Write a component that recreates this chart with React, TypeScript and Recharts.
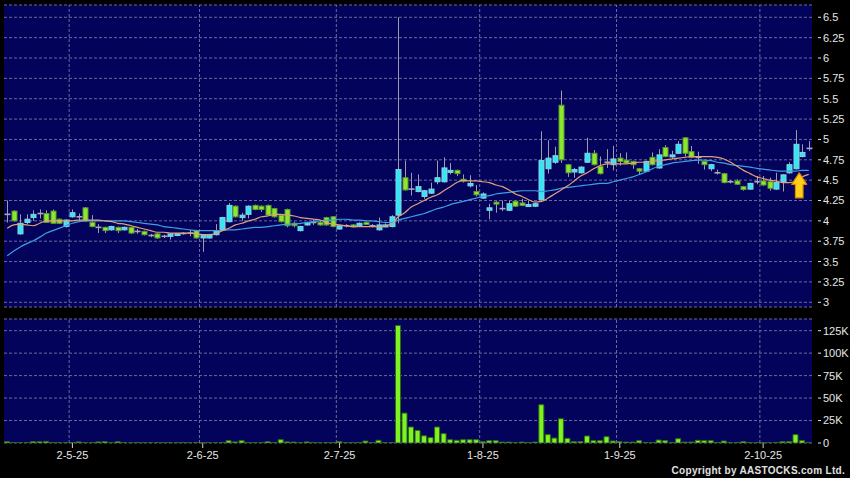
import React from "react";
import { ComposedChart, Bar, Line, XAxis, YAxis, CartesianGrid, ReferenceDot, ReferenceLine } from "recharts";

const dates = [
  "15-4-25","16-4-25","17-4-25","22-4-25","23-4-25","24-4-25","25-4-25","28-4-25","29-4-25","30-4-25",
  "2-5-25","6-5-25","7-5-25","8-5-25","9-5-25","12-5-25","13-5-25","14-5-25","15-5-25","16-5-25","19-5-25","20-5-25","21-5-25","22-5-25","23-5-25","26-5-25","27-5-25","28-5-25","29-5-25","30-5-25",
  "2-6-25","3-6-25","4-6-25","5-6-25","6-6-25","9-6-25","10-6-25","11-6-25","12-6-25","13-6-25","16-6-25","17-6-25","18-6-25","19-6-25","20-6-25","23-6-25","24-6-25","25-6-25","26-6-25","27-6-25","30-6-25",
  "2-7-25","3-7-25","4-7-25","7-7-25","8-7-25","9-7-25","10-7-25","11-7-25","14-7-25","15-7-25","16-7-25","17-7-25","18-7-25","21-7-25","22-7-25","23-7-25","24-7-25","25-7-25","28-7-25","29-7-25","30-7-25","31-7-25",
  "1-8-25","4-8-25","5-8-25","6-8-25","7-8-25","8-8-25","11-8-25","12-8-25","13-8-25","14-8-25","15-8-25","18-8-25","19-8-25","20-8-25","21-8-25","22-8-25","25-8-25","26-8-25","27-8-25","28-8-25","29-8-25",
  "1-9-25","2-9-25","3-9-25","4-9-25","5-9-25","8-9-25","9-9-25","10-9-25","11-9-25","12-9-25","15-9-25","16-9-25","17-9-25","18-9-25","19-9-25","22-9-25","23-9-25","24-9-25","25-9-25","26-9-25","29-9-25","30-9-25",
  "2-10-25","3-10-25","6-10-25","8-10-25","9-10-25","10-10-25","13-10-25","14-10-25"
];

const openP = [
  4.08,4.12,3.84,3.98,4.04,4.09,4.09,4.12,4.02,3.93,
  4.05,4.05,4.16,3.98,3.92,3.92,3.89,3.92,3.89,3.92,3.87,3.87,3.82,3.84,3.81,3.81,3.82,3.845,3.85,3.88,
  3.79,3.79,3.83,3.89,3.99,4.18,4.04,4.08,4.19,4.18,4.19,4.15,4.07,4.14,3.97,3.88,3.95,3.98,3.98,4.04,4.05,
  3.90,3.94,3.95,3.94,3.98,3.94,3.89,3.93,3.93,4.07,4.53,4.39,4.36,4.30,4.34,4.48,4.48,4.60,4.62,4.51,4.43,4.36,
  4.28,4.13,4.23,4.15,4.13,4.24,4.22,4.18,4.18,4.26,4.64,4.72,5.42,4.69,4.60,4.59,4.72,4.83,4.67,4.72,4.69,
  4.77,4.745,4.73,4.64,4.61,4.78,4.65,4.90,4.79,4.83,5.02,4.85,4.78,4.73,4.64,4.59,4.58,4.48,4.49,4.42,4.39,4.48,
  4.49,4.48,4.39,4.48,4.59,4.64,4.79,4.89
];
const highP = [
  4.25,4.13,4.08,4.08,4.13,4.14,4.13,4.14,4.03,4.02,
  4.14,4.09,4.17,4.07,3.96,3.93,3.94,3.93,3.93,3.93,3.90,3.88,3.84,3.85,3.83,3.85,3.85,3.86,3.89,3.89,
  3.84,3.84,3.96,4.05,4.22,4.19,4.10,4.19,4.20,4.19,4.20,4.16,4.08,4.15,3.99,3.94,3.99,4.02,4.00,4.05,4.06,
  3.95,3.96,3.96,3.98,3.99,3.96,4.04,3.97,4.07,6.50,4.74,4.59,4.57,4.38,4.47,4.74,4.78,4.71,4.63,4.57,4.56,4.44,
  4.35,4.21,4.24,4.25,4.25,4.25,4.27,4.25,4.22,5.10,4.99,4.91,5.60,4.70,4.65,4.67,5.02,4.87,4.79,4.88,4.92,
  4.83,4.84,4.74,4.65,4.74,4.84,4.88,4.93,4.86,4.98,5.03,4.92,4.85,4.74,4.70,4.63,4.59,4.50,4.51,4.43,4.47,4.55,
  4.55,4.53,4.59,4.57,4.72,5.115,4.94,4.98
];
const lowP = [
  3.98,3.99,3.83,3.96,4.00,4.03,3.98,3.97,3.96,3.92,
  4.04,4.00,3.99,3.92,3.85,3.85,3.88,3.85,3.88,3.84,3.84,3.82,3.80,3.78,3.79,3.77,3.81,3.83,3.81,3.78,
  3.62,3.78,3.82,3.88,3.98,4.04,4.00,4.03,4.13,4.11,4.06,4.04,3.98,3.92,3.92,3.87,3.94,3.95,3.94,3.94,3.92,
  3.89,3.92,3.92,3.93,3.95,3.92,3.88,3.92,3.92,3.97,4.37,4.31,4.35,4.27,4.33,4.45,4.47,4.57,4.55,4.47,4.41,4.30,
  4.27,4.02,4.10,4.12,4.12,4.17,4.18,4.17,4.17,4.24,4.58,4.70,4.71,4.54,4.53,4.58,4.71,4.68,4.57,4.65,4.62,
  4.68,4.70,4.64,4.575,4.60,4.68,4.64,4.78,4.76,4.82,4.79,4.77,4.70,4.63,4.61,4.57,4.46,4.46,4.44,4.37,4.38,4.45,
  4.43,4.37,4.38,4.36,4.58,4.63,4.78,4.86
];
const closeP = [
  4.08,4.00,3.97,4.02,4.08,4.09,3.98,3.97,3.97,4.01,
  4.10,4.05,4.00,3.93,3.92,3.88,3.93,3.88,3.92,3.85,3.87,3.83,3.82,3.79,3.81,3.84,3.845,3.845,3.85,3.79,
  3.83,3.83,3.87,4.04,4.19,4.05,4.07,4.18,4.14,4.14,4.07,4.05,3.99,3.94,3.94,3.93,3.98,3.98,3.95,3.95,3.93,
  3.94,3.94,3.93,3.97,3.96,3.94,3.95,3.95,4.05,4.63,4.38,4.39,4.42,4.37,4.39,4.53,4.65,4.62,4.58,4.49,4.46,4.32,
  4.33,4.16,4.21,4.15,4.21,4.18,4.19,4.20,4.21,4.74,4.77,4.80,4.75,4.59,4.63,4.66,4.83,4.69,4.58,4.72,4.76,
  4.73,4.71,4.69,4.61,4.73,4.69,4.81,4.79,4.81,4.94,4.83,4.78,4.78,4.69,4.69,4.59,4.47,4.48,4.45,4.385,4.46,4.48,
  4.44,4.40,4.47,4.565,4.69,4.94,4.84,4.89
];

const maShort = [
  3.91,3.95,3.96,3.95,3.94,3.97,4.00,4.00,4.00,4.00,
  4.00,4.01,4.01,4.01,4.01,4.00,3.99,3.97,3.96,3.94,3.92,3.90,3.88,3.86,3.86,3.85,3.85,3.85,3.85,3.84,
  3.83,3.83,3.84,3.88,3.91,3.95,3.97,4.00,4.02,4.05,4.06,4.08,4.08,4.07,4.06,4.04,4.03,4.02,4.01,3.98,3.96,
  3.95,3.94,3.93,3.93,3.93,3.93,3.93,3.94,3.96,4.05,4.10,4.17,4.21,4.25,4.29,4.32,4.37,4.42,4.47,4.50,4.49,4.49,
  4.48,4.47,4.44,4.42,4.38,4.33,4.30,4.26,4.23,4.24,4.28,4.33,4.38,4.43,4.49,4.55,4.59,4.64,4.68,4.70,4.70,
  4.70,4.70,4.71,4.72,4.72,4.73,4.74,4.75,4.76,4.77,4.78,4.79,4.79,4.79,4.79,4.78,4.76,4.72,4.67,4.62,4.58,4.54,
  4.52,4.50,4.49,4.47,4.47,4.49,4.54,4.57
];
const maLong = [
  3.57,3.63,3.68,3.72,3.755,3.80,3.85,3.88,3.91,3.94,
  3.97,3.99,4.00,4.00,4.00,4.00,4.00,4.00,4.00,3.99,3.98,3.97,3.96,3.95,3.93,3.92,3.91,3.90,3.89,3.88,
  3.88,3.88,3.88,3.88,3.89,3.89,3.90,3.91,3.92,3.92,3.93,3.94,3.95,3.96,3.96,3.97,3.98,3.99,4.00,4.01,4.01,
  4.02,4.02,4.01,4.01,4.00,4.00,3.99,3.98,3.98,4.01,4.03,4.05,4.07,4.09,4.12,4.15,4.17,4.20,4.22,4.24,4.26,4.28,
  4.30,4.31,4.33,4.34,4.35,4.36,4.37,4.37,4.37,4.36,4.37,4.38,4.40,4.41,4.42,4.43,4.44,4.45,4.46,4.46,4.48,
  4.50,4.52,4.54,4.57,4.60,4.64,4.67,4.69,4.71,4.72,4.73,4.74,4.745,4.745,4.74,4.72,4.71,4.69,4.68,4.67,4.66,4.645,
  4.635,4.625,4.615,4.61,4.61,4.61,4.62,4.62
];

const volume = [
  1500,300,500,400,1500,1400,1800,600,400,300,
  500,1200,400,500,1200,1500,300,1400,300,200,300,200,300,200,300,400,200,300,200,400,
  300,300,200,600,2600,1200,2600,600,300,400,1500,500,3700,1200,1000,300,1200,300,200,300,400,
  1500,300,300,400,2200,300,3000,400,500,130700,33300,17800,14000,8000,6000,17800,10400,3700,3000,3700,3700,3700,
  1500,2600,2600,1000,1000,600,1000,600,1000,42600,9300,5500,27000,5200,1500,1500,7800,2600,2600,7000,2200,
  1500,1000,1000,2600,600,600,3300,2600,600,4800,1000,1000,3000,2600,2600,600,2200,600,600,1500,600,600,
  300,300,600,1500,1500,9300,2600,600
];

const priceTicks = [3, 3.25, 3.5, 3.75, 4, 4.25, 4.5, 4.75, 5, 5.25, 5.5, 5.75, 6, 6.25, 6.5];
const volTicks = [0, 25000, 50000, 75000, 100000, 125000];
const monthTicks = ["2-5-25", "2-6-25", "2-7-25", "1-8-25", "1-9-25", "2-10-25"];
const arrowDate = "13-10-25";
const arrowPrice = 4.59;

const data = dates.map((d, i) => ({
  date: d,
  open: openP[i],
  high: highP[i],
  low: lowP[i],
  close: closeP[i],
  maS: maShort[i],
  maL: maLong[i],
  vol: volume[i],
}));

const FONT = "'Liberation Sans', Arial, sans-serif";
const PANEL = "#03035c";
const GRID = "#6a6a9c";
const TEXT = "#e6e6e6";

function Candle(props: any) {
  const { x, y, width, height, payload } = props;
  if (!payload) return null;
  const { open, high, low, close } = payload;
  const top0 = Math.min(y, y + height);
  const h0 = Math.abs(height);
  const cx = Math.round(x + width / 2) + 0.5;
  const range = high - low;
  const sc = range > 0 ? h0 / range : 0;
  const py = (v: number) => top0 + (high - v) * sc;
  const wick = (
    <line x1={cx} x2={cx} y1={top0} y2={top0 + h0} stroke="#9c9cab" strokeWidth={1} />
  );
  if (open === close) {
    const yy = py(open);
    return (
      <g>
        {wick}
        <line x1={cx - 3} x2={cx + 3} y1={yy} y2={yy} stroke="#a9a9b8" strokeWidth={1.6} />
      </g>
    );
  }
  const up = close > open;
  const t = py(Math.max(open, close));
  const b = py(Math.min(open, close));
  const bh = Math.max(b - t, 2);
  return (
    <g>
      {wick}
      <rect
        x={cx - 2.5}
        y={t}
        width={5}
        height={bh}
        fill={up ? "#33e6f6" : "#8ce82e"}
        stroke={up ? "#8fd0e0" : "#5c9a2c"}
        strokeWidth={1}
      />
    </g>
  );
}

function makeYTick(fmt: (v: number) => string) {
  return function YTick(props: any) {
    const { x, y, payload } = props;
    return (
      <g>
        <line x1={x + 6} x2={x + 9} y1={y} y2={y} stroke={TEXT} strokeWidth={1} />
        <text x={x + 11} y={y} dy="0.36em" fill={TEXT} fontSize={11} fontFamily={FONT} textAnchor="start">
          {fmt(payload.value)}
        </text>
      </g>
    );
  };
}

const PriceTick = makeYTick((v) => String(v));
const VolTick = makeYTick((v) => (v === 0 ? "0" : `${v / 1000}K`));

function Arrow(props: any) {
  const { cx, cy } = props;
  const c = cx - 3;
  const t = cy;
  const pts = [
    [c, t],
    [c + 7.5, t + 11.5],
    [c + 3.8, t + 11.5],
    [c + 3.8, t + 25],
    [c - 3.8, t + 25],
    [c - 3.8, t + 11.5],
    [c - 7.5, t + 11.5],
  ]
    .map((p) => p.join(","))
    .join(" ");
  return (
    <g>
      <polygon points={pts} fill="#ffcf1a" stroke="#d98c00" strokeWidth={1.2} strokeLinejoin="round" />
    </g>
  );
}

const monthLines = monthTicks.map((t) => (
  <ReferenceLine key={t} x={t} position="start" stroke={GRID} strokeDasharray="3 2" />
));

export default function App() {
  return (
    <div style={{ position: "relative", width: 850, height: 478, background: "#000", overflow: "hidden" }}>
      <style>{`body{margin:0;background:#000;}`}</style>
      <div style={{ position: "absolute", left: 0, top: 0 }}>
        <ComposedChart width={850} height={310} data={data} margin={{ top: 5, right: 0, bottom: 3, left: 4 }}>
          <CartesianGrid fill={PANEL} fillOpacity={1} stroke={GRID} strokeDasharray="3 2" vertical={false} />
          <XAxis dataKey="date" hide ticks={monthTicks} interval={0} />
          <YAxis
            orientation="right"
            width={38}
            domain={[2.942, 6.651]}
            ticks={priceTicks}
            interval={0}
            allowDataOverflow
            axisLine={false}
            tickLine={false}
            tickSize={0}
            tickMargin={0}
            tick={<PriceTick />}
          />
          {monthLines}
          <Line dataKey="maL" stroke="#3f9ee3" strokeWidth={1.2} dot={false} type="monotone" isAnimationActive={false} />
          <Line dataKey="maS" stroke="#e19f78" strokeWidth={1.2} dot={false} type="monotone" isAnimationActive={false} />
          <Bar
            dataKey={(d: any) => [d.low, d.high]}
            shape={<Candle />}
            isAnimationActive={false}
          />
          <ReferenceDot x={arrowDate} y={arrowPrice} r={0} shape={<Arrow />} ifOverflow="visible" />
        </ComposedChart>
      </div>
      <div style={{ position: "absolute", left: 0, top: 310 }}>
        <ComposedChart width={850} height={168} data={data} margin={{ top: 9, right: 0, bottom: 13, left: 4 }} barCategoryGap="8%">
          <CartesianGrid fill={PANEL} fillOpacity={1} stroke={GRID} strokeDasharray="3 2" vertical={false} />
          <XAxis
            dataKey="date"
            ticks={monthTicks}
            interval={0}
            height={22}
            axisLine={false}
            tickLine={{ stroke: "#cfcfcf" }}
            tickSize={5}
            tickMargin={3}
            tick={{ fill: TEXT, fontSize: 11, fontFamily: FONT }}
          />
          <YAxis
            orientation="right"
            width={38}
            domain={[0, 138000]}
            ticks={volTicks}
            interval={0}
            allowDataOverflow
            axisLine={false}
            tickLine={false}
            tickSize={0}
            tickMargin={0}
            tick={<VolTick />}
          />
          {monthLines}
          <Bar dataKey="vol" fill="#7ff424" stroke="#2f6c12" strokeWidth={1} isAnimationActive={false} />
        </ComposedChart>
      </div>
      <div
        style={{
          position: "absolute",
          right: 5,
          top: 465,
          fontFamily: FONT,
          fontWeight: "bold",
          fontSize: 10,
          color: "#e0e0e0",
          letterSpacing: 0.3,
          whiteSpace: "nowrap",
          lineHeight: "12px",
        }}
      >
        Copyright by AASTOCKS.com Ltd.
      </div>
    </div>
  );
}
